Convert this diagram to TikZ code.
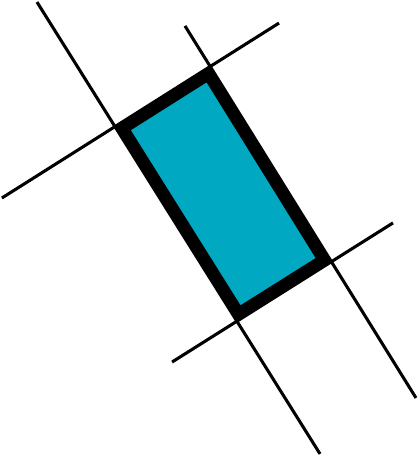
\documentclass[tikz,border=0pt]{standalone}
\usepackage{tikz}
\usetikzlibrary{calc}
\definecolor{platecyan}{RGB}{0,168,194}

\begin{document}
\begin{tikzpicture}[x=0.75pt, y=-0.75pt, guide/.style={draw, line width=2.3pt}, plate/.style={draw, fill=platecyan, line width=8.6pt, line join=miter}]
    \useasboundingbox (0,0) rectangle (420,458);
    % outer corners of the plate
    \coordinate (TL) at (115,126.6);
    \coordinate (TR) at (210.2,66.5);
    \coordinate (BR) at (331.4,261.7);
    \coordinate (BL) at (236.9,321.2);
    
    \draw[guide] ($(TL)!-0.640!(BL)$) -- ($(BL)!-0.682!(TL)$);
    \draw[guide] ($(TR)!-0.208!(BR)$) -- ($(BR)!-0.698!(TR)$);
    \draw[guide] ($(TL)!-1.188!(TR)$) -- ($(TR)!-0.723!(TL)$);
    \draw[guide] ($(BL)!-0.686!(BR)$) -- ($(BR)!-0.652!(BL)$);
    
    % plate drawn on its centre line
    \draw[plate] (122.9,128.4) -- (208.4,74.4) -- (323.5,259.9) -- (238.7,313.2) -- cycle;
\end{tikzpicture}
\end{document}
